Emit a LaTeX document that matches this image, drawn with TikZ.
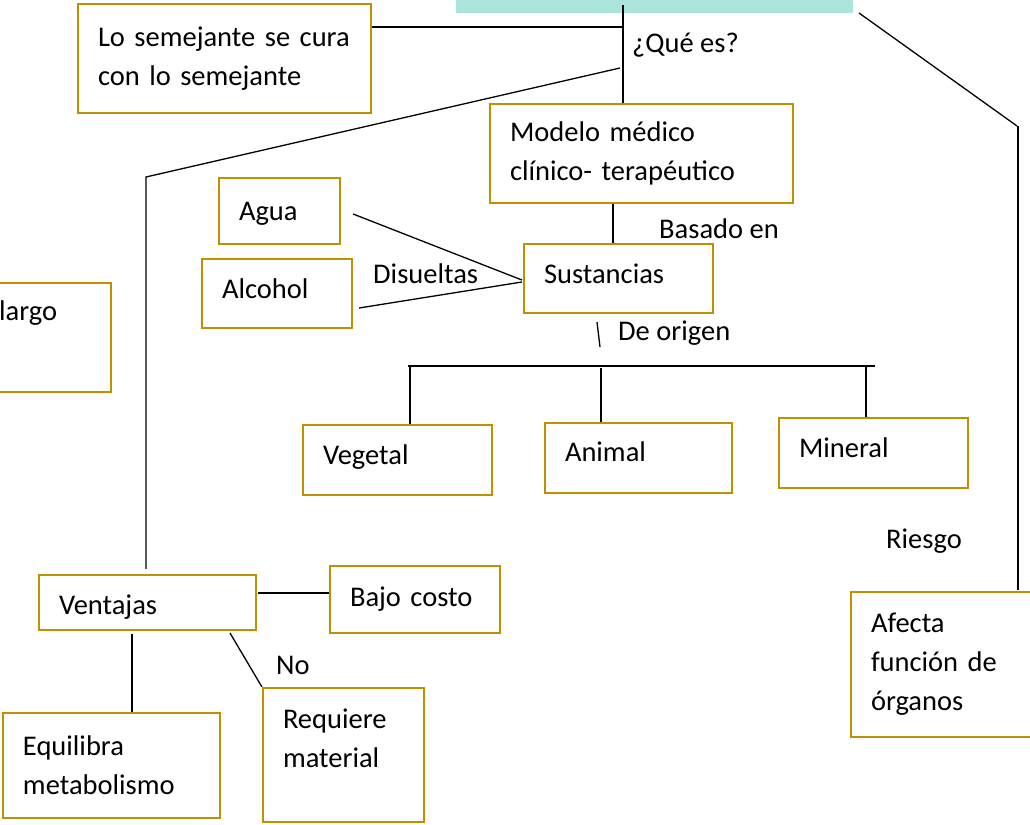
\documentclass[tikz,border=0pt]{standalone}
\usepackage{fontspec}
\setmainfont{Carlito}
\definecolor{boxgold}{RGB}{191,144,0}
\definecolor{barteal}{RGB}{170,228,218}
\newcommand{\mapfs}{\fontsize{28.5}{39}\selectfont}
\newcommand{\mapup}[2]{\raisebox{#1}[\height][\depth]{#2}}
\tikzset{
  bx/.style={draw=boxgold, line width=2.2pt, inner xsep=20pt, inner ysep=0pt,
             align=left, font=\mapfs, anchor=center},
  ln/.style={line width=1.3pt, draw=black},
  lbl/.style={font=\mapfs, inner sep=0pt, anchor=west}
}
\begin{document}
\begin{tikzpicture}[x=1pt,y=-1pt]
\useasboundingbox (0,0) rectangle (1030,824);
% top bar
\fill[barteal] (456,0) rectangle (853,13);

% boxes
\node[bx, minimum width=293pt, minimum height=109pt, text width=253pt] (semej) at (224.5,58.5) {Lo semejante se cura\\con lo semejante};
\node[bx, minimum width=303pt, minimum height=99pt, text width=263pt] (modelo) at (641.5,153.5) {Modelo médico\\clínico- terapéutico};
\node[bx, minimum width=189pt, minimum height=69pt, text width=149pt] (sust) at (618.5,278.5) {\mapup{5pt}{Sustancias}};
\node[bx, minimum width=121pt, minimum height=66pt, text width=81pt] (agua) at (279.5,211) {\mapup{-3pt}{Agua}};
\node[bx, minimum width=150pt, minimum height=69pt, text width=110pt] (alcohol) at (277,293.5) {\mapup{5pt}{Alcohol}};
\node[bx, minimum width=189pt, minimum height=70pt, text width=149pt] (vegetal) at (397.5,460) {\mapup{3pt}{Vegetal}};
\node[bx, minimum width=187pt, minimum height=70pt, text width=147pt] (animal) at (638.5,458) {\mapup{6pt}{Animal}};
\node[bx, minimum width=189pt, minimum height=70pt, text width=149pt] (mineral) at (873.5,453) {\mapup{5pt}{Mineral}};
\node[bx, minimum width=219pt, minimum height=145pt, text width=179pt] (afecta) at (960.5,664.5) {Afecta\\función de\\órganos};
\node[bx, minimum width=261pt, minimum height=109pt] (largobox) at (-19.5,337.5) {};
\node[lbl] (largo) at (-1,313) {largo};
\node[bx, minimum width=217pt, minimum height=55pt, text width=177pt] (ventajas) at (147.5,602.5) {\mapup{-5pt}{Ventajas}};
\node[bx, minimum width=170pt, minimum height=67pt, text width=130pt] (bajo) at (415,599.5) {Bajo costo};
\node[bx, minimum width=217pt, minimum height=105pt, text width=177pt] (equil) at (111.5,765.5) {Equilibra\\metabolismo};
\node[bx, minimum width=161pt, minimum height=134pt, text width=121pt] (requiere) at (343.5,755) {Requiere\\material\\[-6pt]~};

% labels
\node[lbl] (quees) at (632,45) {¿Qué es?};
\node[lbl] (basado) at (659,229) {Basado en};
\node[lbl] (disueltas) at (373,274) {Disueltas};
\node[lbl] (origen) at (618,333) {De origen};
\node[lbl] (riesgo) at (886,541) {Riesgo};
\node[lbl] (no) at (276,665) {No};

% helper coordinates
\coordinate (qtop) at (623,5);
\coordinate (qh) at (623,27);
\coordinate (d1) at (620,68);
\coordinate (d2) at (146,177);
\coordinate (mx) at (613,0);
\coordinate (o1) at (597,322);
\coordinate (o2) at (600,347);
\coordinate (barL) at (408,366);
\coordinate (barR) at (875,366);
\coordinate (bv) at (410,366);
\coordinate (ba) at (601,368);
\coordinate (bm) at (866,366);
\coordinate (r1) at (859,13);
\coordinate (r2) at (1017,126);
\coordinate (r3) at (1018,590);
\coordinate (vb) at (258,593);
\coordinate (ve) at (132,634);
\coordinate (vr) at (230,633);

% connectors
\draw[ln] (semej.east |- qh) -- (qh);
\draw[ln] (qtop) -- (qtop |- modelo.north);
\draw[ln] (d1) -- (d2) -- ([yshift=5pt]d2 |- ventajas.north);
\draw[ln] (modelo.south -| mx) -- (sust.north -| mx);
\draw[ln] ([xshift=12pt,yshift=-3pt]agua.east) -- ([xshift=-1pt,yshift=-1.5pt]sust.west);
\draw[ln] ([xshift=6pt,yshift=-14.5pt]alcohol.east) -- ([xshift=-1pt,yshift=-3.5pt]sust.west);
\draw[ln] (o1) -- (o2);
\draw[ln] (barL) -- (barR);
\draw[ln] (bv) -- (bv |- vegetal.north);
\draw[ln] (ba) -- (ba |- animal.north);
\draw[ln] (bm) -- (bm |- mineral.north);
\draw[ln] (r1) -- (r2);
\draw[ln] (r2 -| r3) -- (r3);
\draw[ln] (vb) -- (vb -| bajo.west);
\draw[ln] (ve) -- (ve |- equil.north);
\draw[ln] (vr) -- (requiere.north west);
\end{tikzpicture}
\end{document}
